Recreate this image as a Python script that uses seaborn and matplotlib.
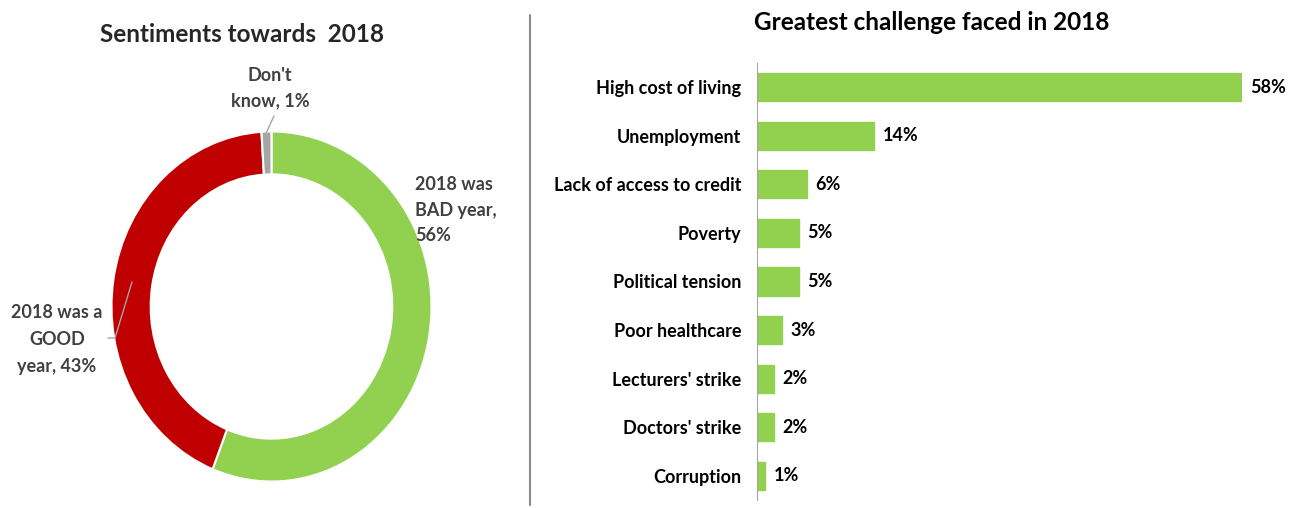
import numpy as np
import pandas as pd
import seaborn as sns
import matplotlib.pyplot as plt
from matplotlib.lines import Line2D

# donut data
sent_labels = ["2018 was\nBAD year,\n56%", "2018 was a\nGOOD\nyear, 43%", "Don't\nknow, 1%"]
sent_values = [56, 43, 1]
sent_colors = ["#92D050", "#C00000", "#A6A6A6"]

# bar data
challenges = ["High cost of living", "Unemployment", "Lack of access to credit", "Poverty",
              "Political tension", "Poor healthcare", "Lecturers' strike", "Doctors' strike",
              "Corruption"]
shares = [58, 14, 6, 5, 5, 3, 2, 2, 1]

sns.set_style("white")
plt.rcParams['font.family'] = ['Lato', 'DejaVu Sans']
plt.rcParams['font.weight'] = 'bold'

W, H = 1289, 508
fig = plt.figure(figsize=(W / 100, H / 100), dpi=100)

# ---- donut (slightly stretched vertically, like the original) ----
cx, cy, rx, ry = 271.5, 306.5, 160, 175
ax1 = fig.add_axes([(cx - rx) / W, (H - cy - ry) / H, 2 * rx / W, 2 * ry / H])
ax1.pie(sent_values, colors=sent_colors, startangle=90, counterclock=False,
        radius=1, wedgeprops=dict(width=0.245, edgecolor="white", linewidth=1.5))
ax1.set_xlim(-1, 1)
ax1.set_ylim(-1, 1)
ax1.set_aspect("auto")
ax1.axis("off")

lab_col = "#404040"
ax1.text(0.897, 0.551, sent_labels[0], ha="left", va="center", fontsize=13,
         color=lab_col, linespacing=1.6, clip_on=False)
ax1.text(-1.34, -0.19, sent_labels[1], ha="center", va="center", fontsize=13,
         color=lab_col, linespacing=1.7, clip_on=False)
ax1.text(-0.01, 1.249, sent_labels[2], ha="center", va="center", fontsize=13,
         color=lab_col, linespacing=1.55, clip_on=False)
ax1.add_line(Line2D([-0.034, 0.016], [0.991, 1.089], color="#A6A6A6", lw=1, clip_on=False))
ax1.add_line(Line2D([-0.872, -0.978, -1.022], [0.14, -0.18, -0.18], color="#A6A6A6",
                    lw=1, clip_on=False))
fig.text(242 / W, 1 - 35 / H, "Sentiments towards  2018", ha="center", va="center",
         fontsize=17.5, color="#262626")

# divider
fig.add_artist(Line2D([530 / W, 530 / W], [1 - 15 / H, 1 - 505 / H], color="#8C8C8C",
                      lw=1.5, transform=fig.transFigure))

# ---- bars ----
top, bot = 87 - 24.3, 476 + 24.3
ax2 = fig.add_axes([757 / W, (H - bot) / H, 485 / W, (bot - top) / H])
df = pd.DataFrame({"challenge": challenges, "share": shares})
sns.barplot(data=df, x="share", y="challenge", color="#92D050", width=0.58,
            saturation=1, ax=ax2, edgecolor="#92D050")
ax2.set_xlim(0, 58)
ax2.set_ylim(len(challenges) - 0.5, -0.5)
for i, v in enumerate(shares):
    ax2.text(v + 1.0, i, f"{v}%", ha="left", va="center", fontsize=13,
             color="black", clip_on=False)
for s in ["top", "right", "bottom"]:
    ax2.spines[s].set_visible(False)
ax2.spines["left"].set_color("#A6A6A6")
ax2.set_xticks([])
ax2.set_xlabel("")
ax2.set_ylabel("")
ax2.set_yticks(range(len(challenges)))
ax2.set_yticklabels(challenges, fontsize=13, color="black")
ax2.tick_params(axis="y", which="major", length=0, pad=11.5)
ax2.set_yticks(np.arange(-0.5, len(challenges), 1), minor=True)
ax2.tick_params(axis="y", which="minor", length=3.6, color="#A6A6A6", width=1)
fig.text(932 / W, 1 - 22 / H, "Greatest challenge faced in 2018", ha="center",
         va="center", fontsize=17.5, color="black")

fig.savefig("out.png", dpi=100)
